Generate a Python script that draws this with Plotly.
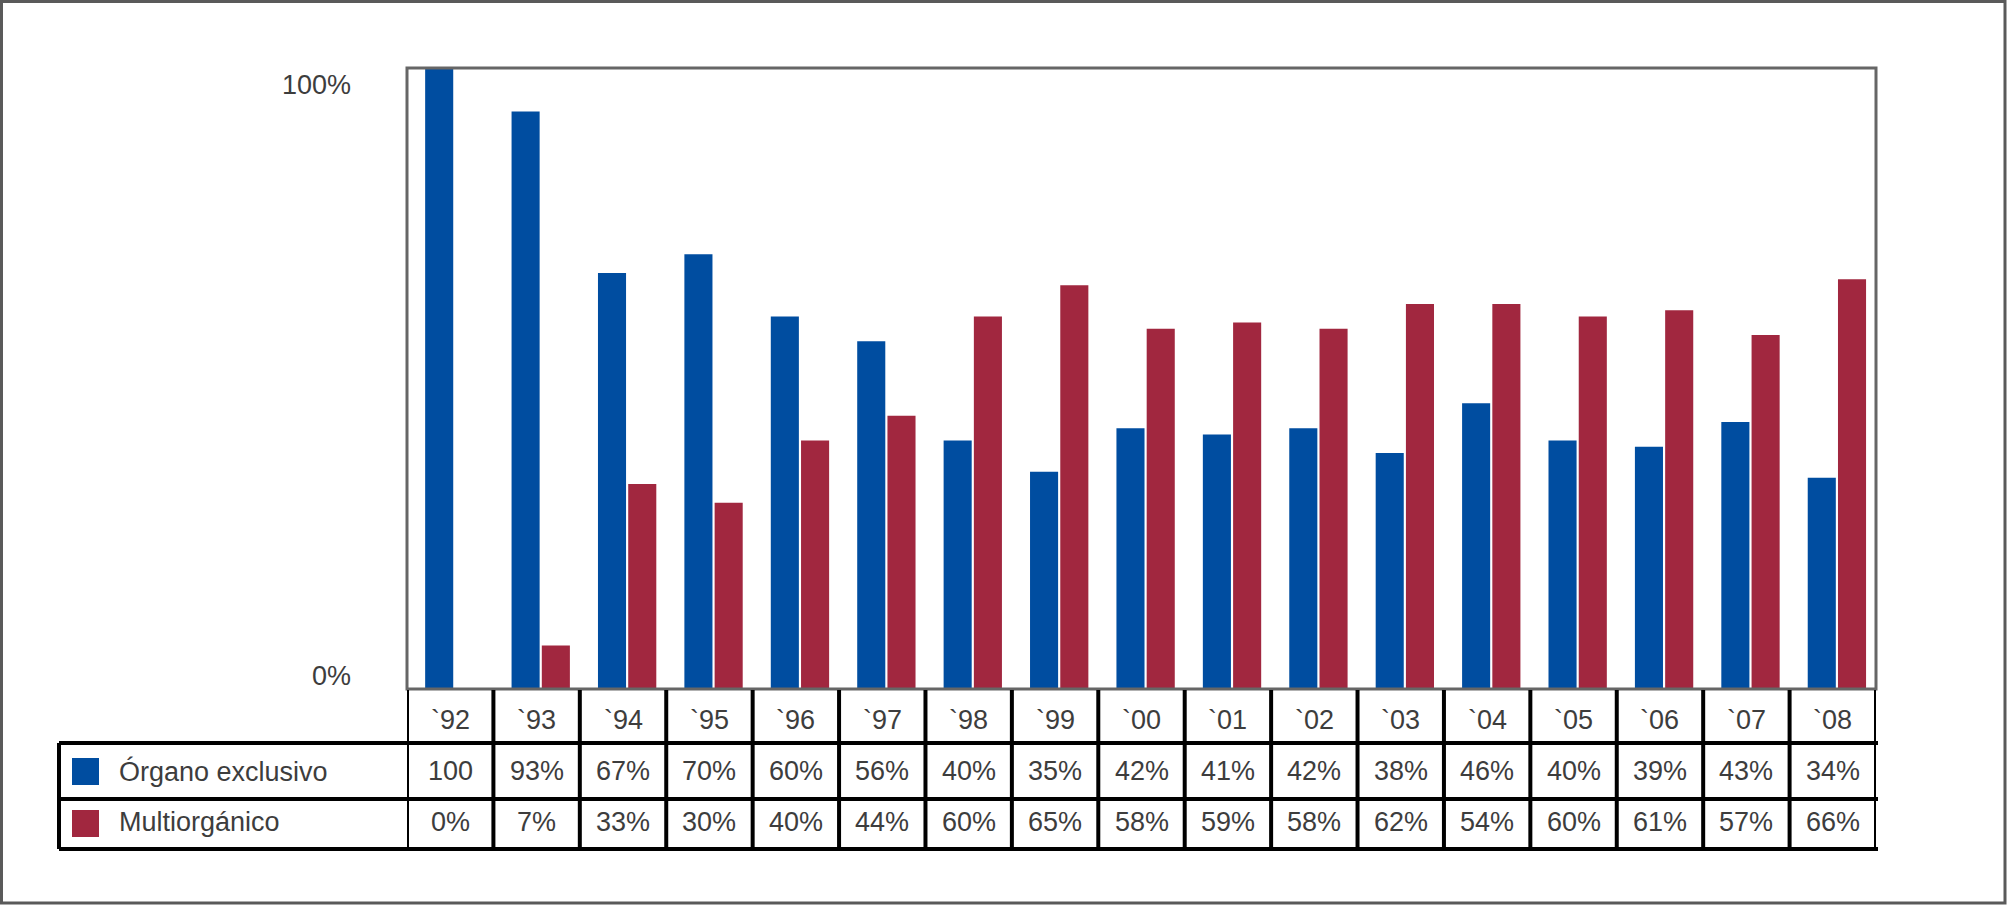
import plotly.graph_objects as go

# ---------------- data ----------------
years = ["`92", "`93", "`94", "`95", "`96", "`97", "`98", "`99", "`00",
         "`01", "`02", "`03", "`04", "`05", "`06", "`07", "`08"]
# bar heights as drawn in the chart
organo_exclusivo = [100, 93, 67, 70, 60, 56, 40, 35, 42, 41, 42, 38, 46, 40, 39, 43, 34]
multiorganico = [0, 7, 33, 30, 40, 44, 60, 65, 58, 59, 58, 62, 62, 60, 61, 57, 66]
# values printed in the table below the chart
organo_labels = ["100", "93%", "67%", "70%", "60%", "56%", "40%", "35%", "42%",
                 "41%", "42%", "38%", "46%", "40%", "39%", "43%", "34%"]
multi_labels = ["0%", "7%", "33%", "30%", "40%", "44%", "60%", "65%", "58%",
                "59%", "58%", "62%", "54%", "60%", "61%", "57%", "66%"]
series_names = ["Órgano exclusivo", "Multiorgánico"]
y_tick_labels = ["100%", "0%"]

# ---------------- layout geometry (pixels) ----------------
W, H = 2008, 906
L, R, T, B = 407, 1876, 68, 689

def px_x(p):
    return (p - L) / (R - L)

def px_y(p):
    return (B - p) / (B - T)

BLUE = "#004DA0"
RED = "#A1273F"
TEXT = "#3d3d3d"
FONT = "Liberation Sans, Arial, sans-serif"
FS = 27

fig = go.Figure()
fig.add_trace(go.Bar(x=years, y=organo_exclusivo, name=series_names[0],
                     marker=dict(color=BLUE, line=dict(width=0)),
                     width=0.325, offset=-0.29, hoverinfo="skip"))
fig.add_trace(go.Bar(x=years, y=multiorganico, name=series_names[1],
                     marker=dict(color=RED, line=dict(width=0)),
                     width=0.325, offset=0.06, hoverinfo="skip"))

shapes = []
# outer frame
shapes.append(dict(type="rect", xref="paper", yref="paper",
                   x0=px_x(1.5), x1=px_x(2005), y0=px_y(903), y1=px_y(1.5),
                   line=dict(color="#5a5a5a", width=3), layer="above"))
# plot box
shapes.append(dict(type="rect", xref="paper", yref="paper",
                   x0=0, x1=1, y0=0, y1=1,
                   line=dict(color="#666666", width=3), layer="above"))
# table horizontal lines
for yy in (743, 799, 849):
    shapes.append(dict(type="line", xref="paper", yref="paper",
                       x0=px_x(59), x1=px_x(1878), y0=px_y(yy), y1=px_y(yy),
                       line=dict(color="#000000", width=4), layer="above"))
# table left edge
shapes.append(dict(type="line", xref="paper", yref="paper",
                   x0=px_x(59), x1=px_x(59), y0=px_y(743), y1=px_y(849),
                   line=dict(color="#000000", width=4), layer="above"))
# column boundaries
for k in range(len(years) + 1):
    shapes.append(dict(type="line", xref="x", yref="paper",
                       x0=k - 0.5, x1=k - 0.5, y0=px_y(690), y1=px_y(849),
                       line=dict(color="#000000", width=4), layer="above"))
# legend squares
shapes.append(dict(type="rect", xref="paper", yref="paper",
                   x0=px_x(72), x1=px_x(99), y0=px_y(785), y1=px_y(758),
                   fillcolor=BLUE, line=dict(width=0)))
shapes.append(dict(type="rect", xref="paper", yref="paper",
                   x0=px_x(72), x1=px_x(99), y0=px_y(837), y1=px_y(810),
                   fillcolor=RED, line=dict(width=0)))

annotations = []
font = dict(family=FONT, size=FS, color=TEXT)
# y labels
annotations.append(dict(text=y_tick_labels[0], xref="paper", yref="paper",
                        x=px_x(353), y=px_y(85), xanchor="right", yanchor="middle",
                        showarrow=False, font=font))
annotations.append(dict(text=y_tick_labels[1], xref="paper", yref="paper",
                        x=px_x(353), y=px_y(676), xanchor="right", yanchor="middle",
                        showarrow=False, font=font))
# table cells
for i, yr in enumerate(years):
    annotations.append(dict(text=yr, xref="x", yref="paper", x=yr, y=px_y(720),
                            xanchor="center", yanchor="middle", showarrow=False, font=font))
    annotations.append(dict(text=organo_labels[i], xref="x", yref="paper", x=yr, y=px_y(771),
                            xanchor="center", yanchor="middle", showarrow=False, font=font))
    annotations.append(dict(text=multi_labels[i], xref="x", yref="paper", x=yr, y=px_y(822),
                            xanchor="center", yanchor="middle", showarrow=False, font=font))
# row labels
annotations.append(dict(text=series_names[0], xref="paper", yref="paper",
                        x=px_x(117), y=px_y(771), xanchor="left", yanchor="middle",
                        showarrow=False, font=font))
annotations.append(dict(text=series_names[1], xref="paper", yref="paper",
                        x=px_x(117), y=px_y(822), xanchor="left", yanchor="middle",
                        showarrow=False, font=font))

fig.update_layout(
    width=W, height=H,
    margin=dict(l=L, r=W - R, t=T, b=H - B, pad=0),
    paper_bgcolor="white", plot_bgcolor="white",
    barmode="overlay", showlegend=False,
    font=font,
    xaxis=dict(type="category", range=[-0.5, len(years) - 0.5], showticklabels=False,
               showgrid=False, zeroline=False, showline=False, ticks="", fixedrange=True),
    yaxis=dict(range=[0, 100], showticklabels=False, showgrid=False, zeroline=False,
               showline=False, ticks="", fixedrange=True),
    shapes=shapes,
    annotations=annotations,
)

fig.write_html("out.html", config={"displayModeBar": False},
               post_script="document.body.style.margin='0px';document.body.style.overflow='hidden';")
